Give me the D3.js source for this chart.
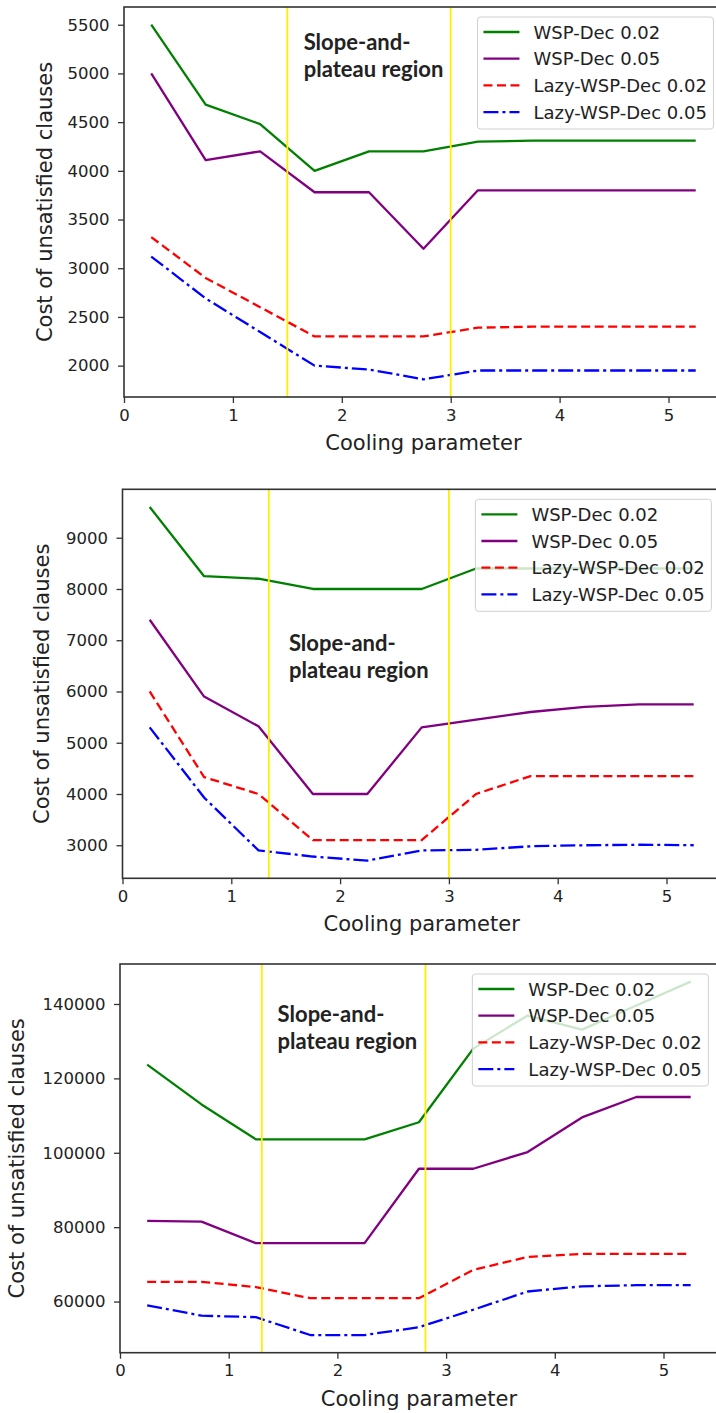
<!DOCTYPE html>
<html>
<head>
<meta charset="utf-8">
<script src="https://cdn.jsdelivr.net/npm/d3@7"></script>
<style>
  html, body { margin: 0; padding: 0; background: #fff; }
  svg { display: block; }
  .tick text { font-family: "DejaVu Sans", sans-serif; font-size: 16.5px; fill: #222; }
  .axis-label { font-family: "DejaVu Sans", sans-serif; font-size: 21px; fill: #222; }
  .legend text { font-family: "DejaVu Sans", sans-serif; font-size: 18px; fill: #222; }
  .note { font-family: Lato, "Open Sans", sans-serif; font-weight: bold; font-size: 22px; fill: #222; }
</style>
</head>
<body>
<div class="plot-container"></div>
<script>
// x values shared by every series (cooling parameter)
const coolingParams = [0.25, 0.75, 1.25, 1.75, 2.25, 2.75, 3.25, 3.75, 4.25, 4.75, 5.25];
const xTicks = [0, 1, 2, 3, 4, 5];
const seriesLabels = ["WSP-Dec 0.02", "WSP-Dec 0.05", "Lazy-WSP-Dec 0.02", "Lazy-WSP-Dec 0.05"];
const noteLines = ["Slope-and-", "plateau region"];

// top chart
const topWsp002 = [5500, 4680, 4480, 4000, 4200, 4200, 4300, 4310, 4310, 4310, 4310];
const topWsp005 = [5000, 4110, 4200, 3780, 3780, 3200, 3800, 3800, 3800, 3800, 3800];
const topLazy002 = [3320, 2900, 2600, 2300, 2300, 2300, 2390, 2400, 2400, 2400, 2400];
const topLazy005 = [3120, 2690, 2345, 2000, 1960, 1860, 1950, 1950, 1950, 1950, 1950];
const topYTicks = [2000, 2500, 3000, 3500, 4000, 4500, 5000, 5500];
const topRegion = [1.5, 3.0];

// middle chart
const midWsp002 = [9600, 8250, 8200, 8000, 8000, 8000, 8400, 8400, 8400, 8400, 8400];
const midWsp005 = [7400, 5900, 5320, 4000, 4000, 5300, 5450, 5600, 5700, 5750, 5750];
const midLazy002 = [6000, 4330, 4000, 3100, 3100, 3100, 4000, 4350, 4350, 4350, 4350];
const midLazy005 = [5300, 3930, 2900, 2780, 2700, 2900, 2910, 2980, 3000, 3010, 3000];
const midYTicks = [3000, 4000, 5000, 6000, 7000, 8000, 9000];
const midRegion = [1.345, 3.0];

// bottom chart
const botWsp002 = [123700, 113000, 103600, 103600, 103600, 108200, 128000, 136900, 133100, 139600, 146000];
const botWsp005 = [81700, 81500, 75700, 75700, 75700, 95700, 95700, 100200, 109500, 115000, 115000];
const botLazy002 = [65300, 65300, 63900, 60900, 60900, 60900, 68500, 72000, 72800, 72800, 72800];
const botLazy005 = [59000, 56200, 55800, 51000, 51000, 53100, 57800, 62700, 64100, 64400, 64400];
const botYTicks = [60000, 80000, 100000, 120000, 140000];
const botRegion = [1.305, 2.81];

// *************************************
// LAYOUT AND STYLES
// *************************************

const seriesStyles = [
  { color: "#008000", dash: null },
  { color: "#800080", dash: null },
  { color: "#ff0000", dash: "9,4.5" },
  { color: "#0000ff", dash: "15,4,3,4" }
];

const panels = [
  { series: [topWsp002, topWsp005, topLazy002, topLazy005], yTicks: topYTicks, region: topRegion,
    left: 124, top: 7, bottom: 397, unit: 108.9, yLabelX: 45, noteX: 1.65, noteDy: 43 },
  { series: [midWsp002, midWsp005, midLazy002, midLazy005], yTicks: midYTicks, region: midRegion,
    left: 122.5, top: 489.3, bottom: 878.3, unit: 108.8, yLabelX: 42, noteX: 1.53, noteDy: 161.7 },
  { series: [botWsp002, botWsp005, botLazy002, botLazy005], yTicks: botYTicks, region: botRegion,
    left: 120, top: 964, bottom: 1352.7, unit: 108.7, yLabelX: 17, noteX: 1.45, noteDy: 58 }
];

const svg = d3.select("div.plot-container")
  .append("svg")
  .attr("width", 716)
  .attr("height", 1413);

// matplotlib-like 5% margin around the data
let paddedExtent = (series) => {
  let [lo, hi] = d3.extent(series.flat());
  let pad = (hi - lo) * 0.05;
  return [lo - pad, hi + pad];
};

let drawPanel = (p) => {
  let right = p.left + 5.5 * p.unit;
  let x = d3.scaleLinear().domain([0, 5.5]).range([p.left, right]);
  let y = d3.scaleLinear().domain(paddedExtent(p.series)).range([p.bottom, p.top]);
  let g = svg.append("g");

  // data lines
  let line = d3.line().x((d, i) => x(coolingParams[i])).y((d) => y(d));
  p.series.forEach((vals, i) => {
    g.append("path")
      .datum(vals)
      .attr("d", line)
      .attr("fill", "none")
      .attr("stroke", seriesStyles[i].color)
      .attr("stroke-width", 2.3)
      .attr("stroke-linejoin", "round")
      .attr("stroke-dasharray", seriesStyles[i].dash);
  });

  // yellow region markers
  g.selectAll("line.region")
    .data(p.region)
    .join("line")
    .attr("class", "region")
    .attr("x1", (d) => x(d)).attr("x2", (d) => x(d))
    .attr("y1", p.top).attr("y2", p.bottom)
    .attr("stroke", "#ffee00")
    .attr("stroke-width", 1.8);

  // axes
  let xAxis = g.append("g")
    .attr("transform", `translate(0,${p.bottom})`)
    .call(d3.axisBottom(x).tickValues(xTicks).tickFormat(d3.format("d")).tickSize(6).tickPadding(6).tickSizeOuter(0));
  let yAxis = g.append("g")
    .attr("transform", `translate(${p.left},0)`)
    .call(d3.axisLeft(y).tickValues(p.yTicks).tickFormat(d3.format("d")).tickSize(6).tickPadding(8.5).tickSizeOuter(0));
  [xAxis, yAxis].forEach((a) => {
    a.select(".domain").remove();
    a.selectAll(".tick line").attr("stroke", "#333").attr("stroke-width", 1.3);
  });

  // frame (right side falls outside the picture)
  g.append("rect")
    .attr("x", p.left).attr("y", p.top)
    .attr("width", right - p.left).attr("height", p.bottom - p.top)
    .attr("fill", "none")
    .attr("stroke", "#333")
    .attr("stroke-width", 1.6);

  // axis labels
  g.append("text")
    .attr("class", "axis-label")
    .attr("x", (p.left + right) / 2).attr("y", p.bottom + 46)
    .attr("text-anchor", "middle").attr("dominant-baseline", "central")
    .text("Cooling parameter");
  g.append("text")
    .attr("class", "axis-label")
    .attr("transform", `translate(${p.yLabelX},${(p.top + p.bottom) / 2}) rotate(-90)`)
    .attr("text-anchor", "middle").attr("dominant-baseline", "central")
    .text("Cost of unsatisfied clauses");

  // annotation, one text per line
  g.selectAll("text.note")
    .data(noteLines)
    .join("text")
    .attr("class", "note")
    .attr("x", x(p.noteX))
    .attr("y", (d, i) => p.top + p.noteDy + i * 26.5)
    .text((d) => d);

  // legend
  let lw = 236, lh = 112;
  let lx = right - 9.5 - lw, ly = p.top + 10;
  let legend = g.append("g").attr("class", "legend").attr("transform", `translate(${lx},${ly})`);
  legend.append("rect")
    .attr("width", lw).attr("height", lh).attr("rx", 3)
    .attr("fill", "#fff").attr("fill-opacity", 0.8)
    .attr("stroke", "#d0d0d0").attr("stroke-width", 1);
  let rows = legend.selectAll("g.row")
    .data(seriesLabels)
    .join("g")
    .attr("class", "row")
    .attr("transform", (d, i) => `translate(0,${15 + i * 26.7})`);
  rows.append("line")
    .attr("x1", 6).attr("x2", 42)
    .attr("stroke", (d, i) => seriesStyles[i].color)
    .attr("stroke-width", 2.3)
    .attr("stroke-dasharray", (d, i) => seriesStyles[i].dash);
  rows.append("text")
    .attr("x", 56)
    .attr("dominant-baseline", "central")
    .text((d) => d);
};

panels.forEach(drawPanel);
</script>
</body>
</html>
